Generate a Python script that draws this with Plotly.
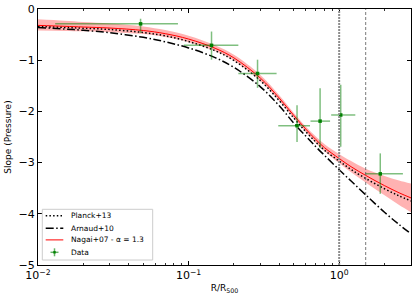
import plotly.graph_objects as go

# ---- data ----
r_model = [0.01, 0.015, 0.02, 0.03, 0.05, 0.07, 0.1, 0.15, 0.2, 0.3, 0.4,
           0.5, 0.6, 0.7, 0.8, 1.0, 1.2, 1.5, 2.0, 2.5, 3.0]
planck13 = [-0.34, -0.36, -0.375, -0.40, -0.46, -0.525, -0.635, -0.815, -1.005, -1.40, -1.79,
            -2.13, -2.395, -2.60, -2.76, -2.97, -3.135, -3.31, -3.51, -3.65, -3.75]
arnaud10 = [-0.36, -0.39, -0.416, -0.464, -0.553, -0.641, -0.76, -0.95, -1.14, -1.52, -1.89,
            -2.23, -2.48, -2.69, -2.86, -3.14, -3.36, -3.63, -3.97, -4.21, -4.39]
nagai07 = [-0.32, -0.338, -0.352, -0.372, -0.42, -0.482, -0.587, -0.767, -0.955, -1.35, -1.74,
           -2.08, -2.345, -2.55, -2.71, -2.92, -3.08, -3.25, -3.45, -3.59, -3.69]
nagai07_hi = [-0.20, -0.228, -0.252, -0.282, -0.34, -0.412, -0.522, -0.707, -0.895, -1.29, -1.685,
              -2.03, -2.295, -2.49, -2.64, -2.83, -2.97, -3.12, -3.26, -3.35, -3.41]
nagai07_lo = [-0.42, -0.428, -0.437, -0.452, -0.49, -0.547, -0.647, -0.822, -1.01, -1.41, -1.795,
              -2.13, -2.40, -2.615, -2.78, -3.01, -3.19, -3.39, -3.64, -3.83, -3.97]

data_r = [0.048, 0.142, 0.287, 0.525, 0.747, 1.024, 1.875]
data_r_lo = [0.013, 0.093, 0.214, 0.394, 0.645, 0.885, 1.49]
data_r_hi = [0.085, 0.214, 0.384, 0.64, 0.87, 1.28, 2.65]
data_slope = [-0.29, -0.71, -1.26, -2.28, -2.19, -2.07, -3.22]
data_slope_hi = [-0.19, -0.44, -0.99, -1.88, -1.55, -1.48, -2.82]
data_slope_lo = [-0.47, -0.99, -1.54, -2.60, -2.72, -2.69, -3.61]

vlines = [1.0, 1.5]
x_tickvals = [0.01, 0.1, 1]
x_ticktext = ["10<sup>\u22122</sup>", "10<sup>\u22121</sup>", "10<sup>0</sup>"]
y_tickvals = [0, -1, -2, -3, -4, -5]
y_ticktext = ["0", "\u22121", "\u22122", "\u22123", "\u22124", "\u22125"]
legend_labels = ["Planck+13", "Arnaud+10", "Nagai+07 - \u03b1 = 1.3", "Data"]

FONT = "DejaVu Sans"
W, H = 415, 297
ML, MR, MT, MB = 38, 4, 9, 32
PW, PH = W - ML - MR, H - MT - MB


def fx(px):
    return (px - ML) / PW


def fy(py):
    return (H - MB - py) / PH


fig = go.Figure()

# shaded band
fig.add_trace(go.Scatter(x=r_model, y=nagai07_hi, mode="lines", line=dict(width=0, shape="spline"),
                         showlegend=False, hoverinfo="skip"))
fig.add_trace(go.Scatter(x=r_model, y=nagai07_lo, mode="lines", line=dict(width=0, shape="spline"),
                         fill="tonexty", fillcolor="rgba(255,0,0,0.3)", showlegend=False, hoverinfo="skip"))

DOT = "1.5px,2.2px"
DASHDOT = "8px,2.5px,1.5px,2.5px"
fig.add_trace(go.Scatter(x=r_model, y=planck13, mode="lines", name=legend_labels[0], showlegend=False,
                         line=dict(color="black", width=1.5, dash=DOT, shape="spline")))
fig.add_trace(go.Scatter(x=r_model, y=arnaud10, mode="lines", name=legend_labels[1], showlegend=False,
                         line=dict(color="black", width=1.5, dash=DASHDOT, shape="spline")))
fig.add_trace(go.Scatter(x=r_model, y=nagai07, mode="lines", name=legend_labels[2], showlegend=False,
                         line=dict(color="red", width=1, shape="spline")))

err_x_plus = [h - c for h, c in zip(data_r_hi, data_r)]
err_x_minus = [c - l for l, c in zip(data_r_lo, data_r)]
err_y_plus = [h - c for h, c in zip(data_slope_hi, data_slope)]
err_y_minus = [c - l for l, c in zip(data_slope_lo, data_slope)]

fig.add_trace(go.Scatter(x=data_r, y=data_slope, mode="markers", name=legend_labels[3], showlegend=False,
                         marker=dict(color="green", size=3.5, symbol="square"),
                         error_x=dict(type="data", array=err_x_plus, arrayminus=err_x_minus,
                                      color="rgba(0,128,0,0.5)", thickness=1.5, width=0),
                         error_y=dict(type="data", array=err_y_plus, arrayminus=err_y_minus,
                                      color="rgba(0,128,0,0.5)", thickness=1.5, width=0)))

fig.add_vline(x=vlines[0], line=dict(color="#8c8c8c", width=2, dash="2px,1px"))
fig.add_vline(x=vlines[1], line=dict(color="#555555", width=0.8, dash="3px,2px"))

# ---- legend drawn as a box (matplotlib-like compact layout) ----
box = dict(l=42.3, t=209.3, r=152.7, b=260.0)
rows = [215.7, 228.3, 239.9, 252.3]
line_x0, line_x1, text_x = 45.7, 63.3, 69.0
shapes = [dict(type="rect", xref="paper", yref="paper", x0=fx(box["l"]), x1=fx(box["r"]),
               y0=fy(box["b"]), y1=fy(box["t"]), line=dict(color="#cccccc", width=1),
               fillcolor="rgba(255,255,255,0.8)", layer="above")]
styles = [dict(color="black", width=1.5, dash=DOT), dict(color="black", width=1.5, dash=DASHDOT),
          dict(color="red", width=1)]
for ry, st in zip(rows[:3], styles):
    shapes.append(dict(type="line", xref="paper", yref="paper", x0=fx(line_x0), x1=fx(line_x1),
                       y0=fy(ry), y1=fy(ry), line=st, layer="above"))
cx = (line_x0 + line_x1) / 2
shapes.append(dict(type="line", xref="paper", yref="paper", x0=fx(cx - 4), x1=fx(cx + 4),
                   y0=fy(rows[3]), y1=fy(rows[3]), line=dict(color="rgba(0,128,0,0.6)", width=1.5), layer="above"))
shapes.append(dict(type="line", xref="paper", yref="paper", x0=fx(cx), x1=fx(cx),
                   y0=fy(rows[3] + 4), y1=fy(rows[3] - 4), line=dict(color="rgba(0,128,0,0.6)", width=1.5), layer="above"))
shapes.append(dict(type="rect", xref="paper", yref="paper", x0=fx(cx - 1.2), x1=fx(cx + 1.2),
                   y0=fy(rows[3] + 1.2), y1=fy(rows[3] - 1.2), line=dict(width=0), fillcolor="green", layer="above"))
annotations = [dict(text=lab, xref="paper", yref="paper", x=fx(text_x), y=fy(ry), xanchor="left",
                    yanchor="middle", showarrow=False, font=dict(family=FONT, size=7.5, color="black"))
               for lab, ry in zip(legend_labels, rows)]

minor_x = [m * 10 ** e for e in (-2, -1, 0) for m in range(2, 10) if m * 10 ** e <= 3.0]

fig.update_xaxes(type="log", range=[-2, 0.477], tickvals=x_tickvals, ticktext=x_ticktext,
                 ticks="inside", ticklen=4, tickwidth=1, tickcolor="black",
                 minor=dict(tickvals=minor_x, ticks="inside", ticklen=2, tickcolor="black", tickwidth=0.8),
                 showline=True, linecolor="black", linewidth=1, mirror="allticks",
                 showgrid=False, zeroline=False,
                 tickfont=dict(family=FONT, size=11, color="black"),
                 title=dict(text="R/R<sub>500</sub>", font=dict(family=FONT, size=9, color="black"), standoff=3))
fig.update_yaxes(range=[-5, 0], tickvals=y_tickvals, ticktext=y_ticktext,
                 ticks="inside", ticklen=4, tickwidth=1, tickcolor="black",
                 showline=True, linecolor="black", linewidth=1, mirror="allticks",
                 showgrid=False, zeroline=False,
                 tickfont=dict(family=FONT, size=11, color="black"),
                 title=dict(text="Slope (Pressure)", font=dict(family=FONT, size=9, color="black"), standoff=5))

fig.update_layout(width=W, height=H, margin=dict(l=ML, r=MR, t=MT, b=MB),
                  plot_bgcolor="white", paper_bgcolor="white", showlegend=False,
                  shapes=list(fig.layout.shapes) + shapes, annotations=annotations)

fig.write_html("out.html", config={"displayModeBar": False, "staticPlot": True},
               post_script="document.body.style.margin='0';document.body.style.overflow='hidden';")
